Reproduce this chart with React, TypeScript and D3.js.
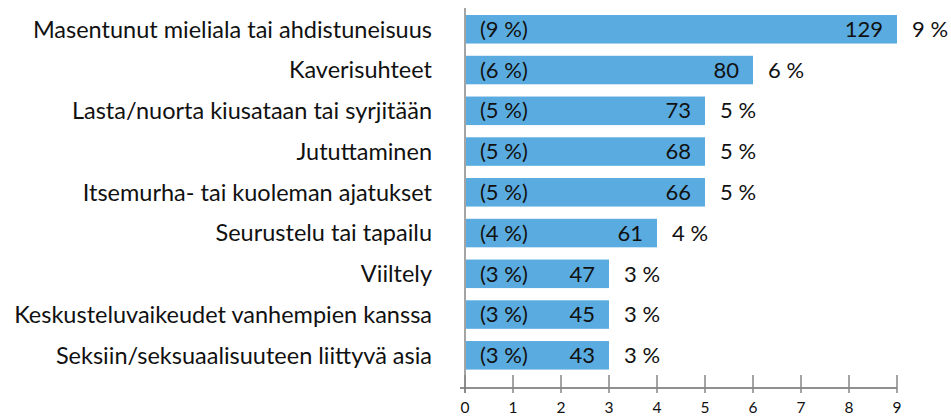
import React, { useEffect, useRef } from 'react';
import * as d3 from 'd3';

const categories = [
  'Masentunut mieliala tai ahdistuneisuus',
  'Kaverisuhteet',
  'Lasta/nuorta kiusataan tai syrjitään',
  'Jututtaminen',
  'Itsemurha- tai kuoleman ajatukset',
  'Seurustelu tai tapailu',
  'Viiltely',
  'Keskusteluvaikeudet vanhempien kanssa',
  'Seksiin/seksuaalisuuteen liittyvä asia',
];
const percents = [9, 6, 5, 5, 5, 4, 3, 3, 3];
const counts = [129, 80, 73, 68, 66, 61, 47, 45, 43];
const ticks = [0, 1, 2, 3, 4, 5, 6, 7, 8, 9];

const FONT = 'Lato, "Open Sans", sans-serif';

export default function App() {
  const svgRef = useRef<SVGSVGElement>(null);

  useEffect(() => {
    if (!svgRef.current) return;
    const svg = d3.select(svgRef.current);
    svg.selectAll('*').remove();

    const data = categories.map((c, i) => ({ cat: c, pct: percents[i], n: counts[i] }));

    const x = d3.scaleLinear().domain([0, 9]).range([465, 897]);
    const y = d3.scaleBand().domain(categories).range([2.8, 381.8]).paddingInner(0.3).paddingOuter(0.3);

    // vertical axis line
    svg.append('line')
      .attr('x1', x(0)).attr('x2', x(0))
      .attr('y1', 8).attr('y2', 393)
      .attr('stroke', '#868686').attr('stroke-width', 1.5);

    const rows = svg.append('g').selectAll('g').data(data).enter().append('g');

    rows.append('rect')
      .attr('x', x(0) + 1)
      .attr('y', d => y(d.cat)!)
      .attr('width', d => x(d.pct) - x(0) - 1)
      .attr('height', y.bandwidth())
      .attr('fill', '#5AACE0');

    const cy = (d: { cat: string }) => y(d.cat)! + y.bandwidth() / 2;

    rows.append('text')
      .attr('x', 432)
      .attr('y', cy)
      .attr('dy', '0.35em')
      .attr('text-anchor', 'end')
      .attr('font-family', FONT)
      .attr('font-size', 23.5)
      .attr('fill', '#111')
      .text(d => d.cat);

    rows.append('text')
      .attr('x', x(0) + 15)
      .attr('y', cy)
      .attr('dy', '0.35em')
      .attr('font-family', FONT)
      .attr('font-size', 22)
      .attr('fill', '#111')
      .text(d => `(${d.pct} %)`);

    rows.append('text')
      .attr('x', d => x(d.pct) - 14)
      .attr('y', cy)
      .attr('dy', '0.35em')
      .attr('text-anchor', 'end')
      .attr('font-family', FONT)
      .attr('font-size', 22)
      .attr('fill', '#111')
      .text(d => d.n);

    rows.append('text')
      .attr('x', d => x(d.pct) + 15)
      .attr('y', cy)
      .attr('dy', '0.35em')
      .attr('font-family', FONT)
      .attr('font-size', 22)
      .attr('fill', '#111')
      .text(d => `${d.pct} %`);

    // bottom axis
    const axisY = 388;
    svg.append('line')
      .attr('x1', 460).attr('x2', x(9))
      .attr('y1', axisY).attr('y2', axisY)
      .attr('stroke', '#222').attr('stroke-width', 1.2);

    const tg = svg.append('g').selectAll('g').data(ticks).enter().append('g');
    tg.append('line')
      .attr('x1', d => x(d)).attr('x2', d => x(d))
      .attr('y1', axisY - 13).attr('y2', axisY + 5)
      .attr('stroke', '#868686').attr('stroke-width', 1.5);
    tg.append('text')
      .attr('x', d => x(d))
      .attr('y', 408)
      .attr('dy', '0.35em')
      .attr('text-anchor', 'middle')
      .attr('font-family', FONT)
      .attr('font-size', 15.5)
      .attr('fill', '#111')
      .text(d => d);
  }, []);

  return (
    <svg
      ref={svgRef}
      width={951}
      height={416}
      style={{ position: 'absolute', left: 0, top: 0, display: 'block' }}
    />
  );
}
